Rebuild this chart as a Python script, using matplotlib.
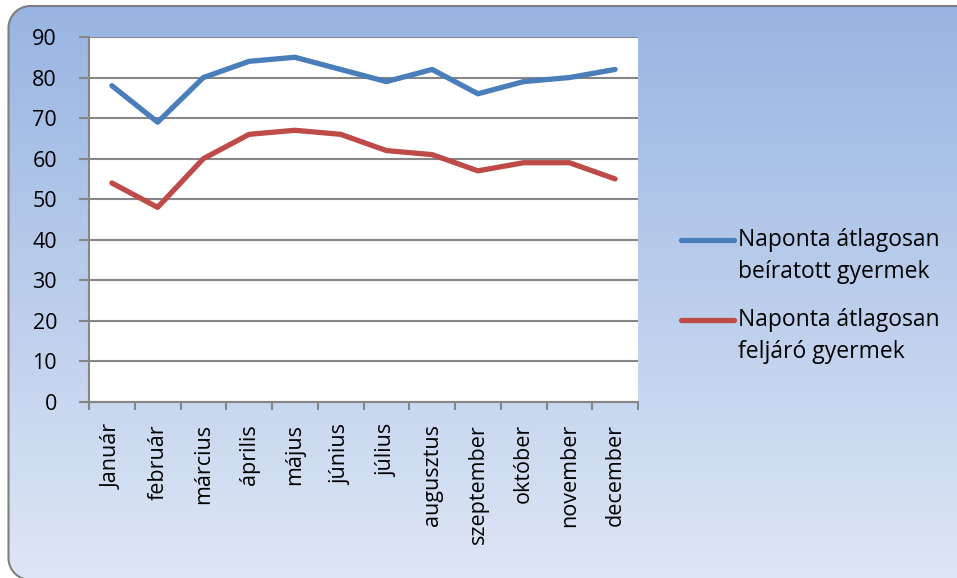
import numpy as np
import matplotlib
matplotlib.use("Agg")
import matplotlib.pyplot as plt
from matplotlib.patches import PathPatch
from matplotlib.path import Path
from matplotlib.lines import Line2D

months = ["Január", "február", "március", "április", "május", "június",
          "július", "augusztus", "szeptember", "október", "november", "december"]
beiratott = [78, 69, 80, 84, 85, 82, 79, 82, 76, 79, 80, 82]
feljaro = [54, 48, 60, 66, 67, 66, 62, 61, 57, 59, 59, 55]
series_names = ["Naponta átlagosan\nbeíratott gyermek", "Naponta átlagosan\nfeljáró gyermek"]
series_colors = ["#4A7EBB", "#BE4B48"]
y_ticks = list(range(0, 91, 10))

plt.rcParams["font.family"] = ["Open Sans", "DejaVu Sans"]

W, H = 957, 578
fig = plt.figure(figsize=(W / 100, H / 100), dpi=100)
px = fig.dpi_scale_trans  # inches; 1 px = 0.01 in


def rounded_rect(x0, y0, x1, y1, r):
    # closed rounded rectangle in inches, y up
    k = 0.5523 * r
    verts = [(x0 + r, y0), (x1 - r, y0),
             (x1 - r + k, y0), (x1, y0 + r - k), (x1, y0 + r),
             (x1, y1 - r),
             (x1, y1 - r + k), (x1 - r + k, y1), (x1 - r, y1),
             (x0 + r, y1),
             (x0 + r - k, y1), (x0, y1 - r + k), (x0, y1 - r),
             (x0, y0 + r),
             (x0, y0 + r - k), (x0 + r - k, y0), (x0 + r, y0),
             (x0 + r, y0)]
    codes = ([Path.MOVETO, Path.LINETO] + [Path.CURVE4] * 3 + [Path.LINETO]
             + [Path.CURVE4] * 3 + [Path.LINETO] + [Path.CURVE4] * 3
             + [Path.LINETO] + [Path.CURVE4] * 3 + [Path.CLOSEPOLY])
    return Path(verts, codes)


frame = rounded_rect(0.085, -0.02, 9.8, (H - 6) / 100, 0.22)

# gradient background, clipped to the rounded frame
bg = fig.add_axes([0, 0, 1, 1], zorder=-10)
bg.axis("off")
top = np.array([151, 180, 226]) / 255
bottom = np.array([222, 230, 245]) / 255
t = np.linspace(0, 1, 256)[:, None]
grad = top + (bottom - top) * t
img = np.repeat(grad[:, None, :], 2, axis=1)
im = bg.imshow(img, extent=[0, 1, 0, 1], aspect="auto", origin="upper",
               transform=bg.transAxes, interpolation="bilinear")
bg.set_xlim(0, 1)
bg.set_ylim(0, 1)
border = PathPatch(frame, facecolor="none", edgecolor="#7f7f7f", linewidth=1.5,
                   transform=px)
fig.add_artist(border)
im.set_clip_path(frame, px)

ax = fig.add_axes([89 / W, 1 - 402 / H, 549 / W, 365 / H])
x = np.arange(len(months))
for vals, col in zip([beiratott, feljaro], series_colors):
    ax.plot(x, vals, color=col, linewidth=3.8, solid_capstyle="round",
            solid_joinstyle="round")

ax.set_xlim(-0.5, len(months) - 0.5)
ax.set_ylim(0, 90)
ax.set_yticks(y_ticks)
ax.yaxis.grid(True, color="#868686", linewidth=1.5)
ax.set_axisbelow(True)
ax.set_facecolor("white")
for s in ["top", "right"]:
    ax.spines[s].set_visible(False)
for s in ["left", "bottom"]:
    ax.spines[s].set_color("#868686")
    ax.spines[s].set_linewidth(1.5)

ax.set_xticks(x)
ax.set_xticklabels(months, rotation=90, fontsize=15.5)
ax.set_xticks(np.arange(-0.5, len(months), 1), minor=True)
ax.tick_params(axis="x", which="major", length=0, pad=16)
ax.tick_params(axis="x", which="minor", length=6, width=1.5, color="#868686")
ax.tick_params(axis="y", length=7, width=1.5, color="#868686", labelsize=15.5, pad=16)

# legend: handle aligned with the first line of each entry
entry_y = [240, 320]
for name, col, ey in zip(series_names, series_colors, entry_y):
    fig.add_artist(Line2D([6.81, 7.34], [(H - ey) / 100] * 2, color=col, linewidth=3.8,
                          solid_capstyle="round", transform=px))
    for k, line in enumerate(name.split("\n")):
        fig.text(7.38, (H - ey - 32 * k) / 100, line, fontsize=16.5, va="center",
                 ha="left", transform=px)

fig.savefig("out.png", dpi=100)
